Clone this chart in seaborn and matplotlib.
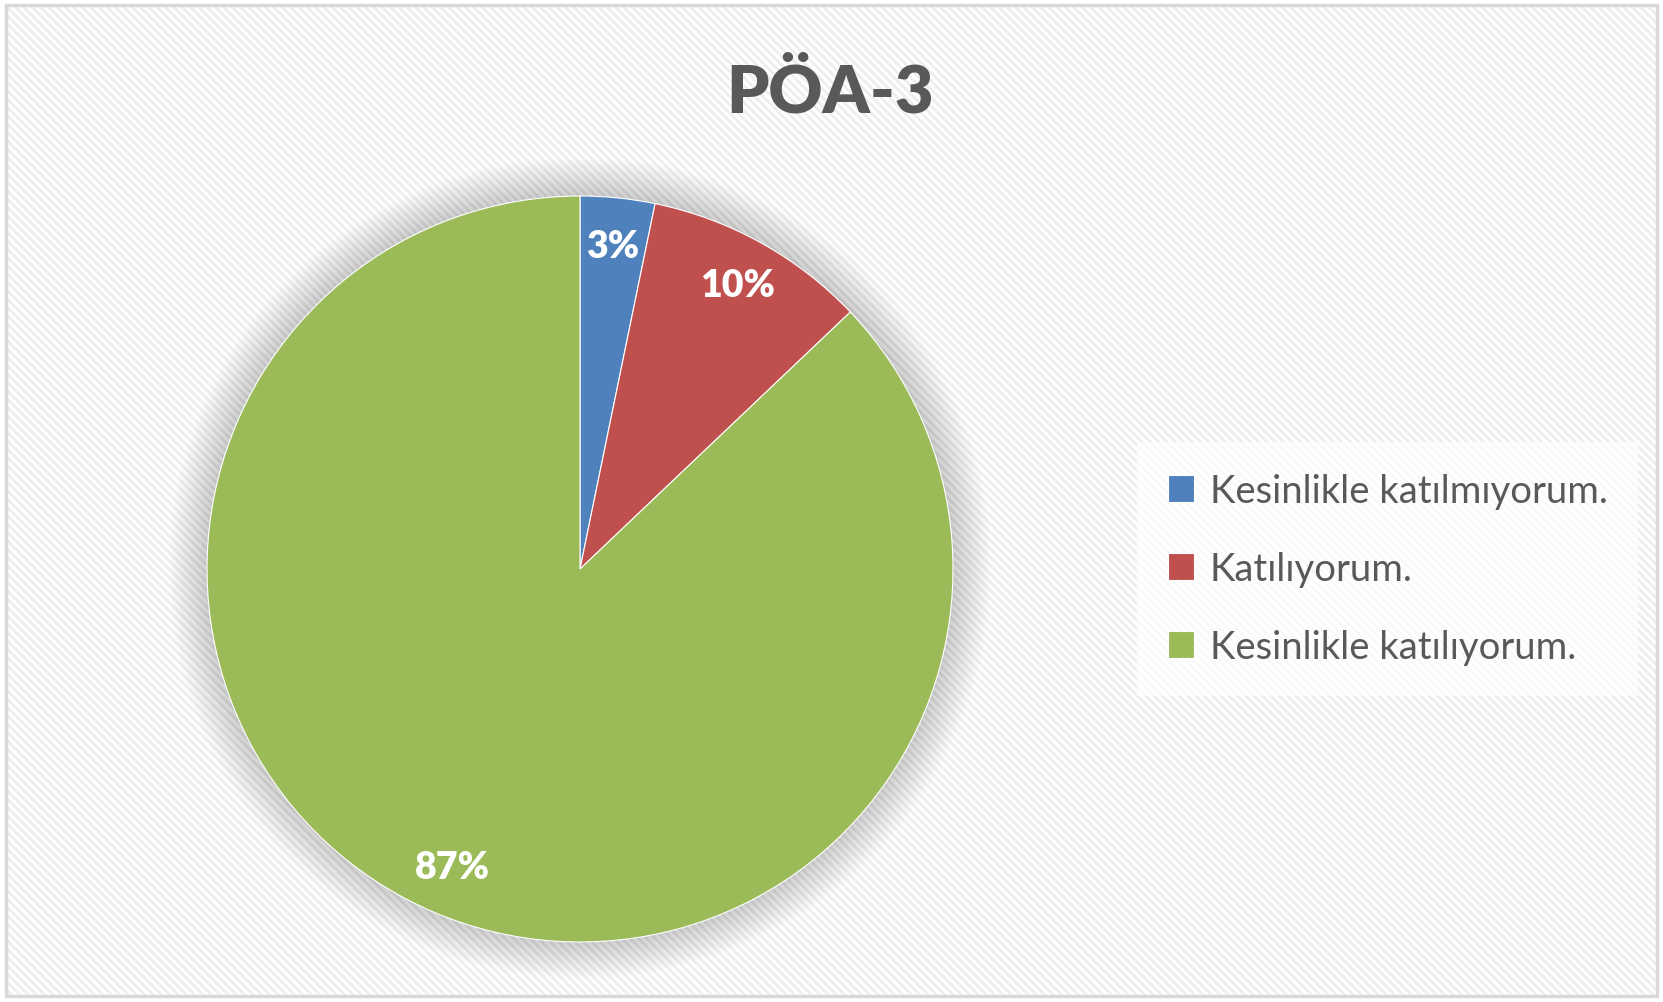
import numpy as np
import matplotlib
matplotlib.use("Agg")
from matplotlib import pyplot as plt
from matplotlib.patches import Rectangle, Circle
import seaborn as sns

labels = ["Kesinlikle katılmıyorum.", "Katılıyorum.", "Kesinlikle katılıyorum."]
counts = [1, 3, 27]
colors = ["#4F81BD", "#C0504D", "#9BBB59"]
title = "PÖA-3"

sns.set_theme(style="white")
plt.rcParams['font.family'] = ['Lato', 'DejaVu Sans']
plt.rcParams['hatch.linewidth'] = 2.0

W, H = 1663, 1003
fig = plt.figure(figsize=(W / 100, H / 100), dpi=100)

# background with faint diagonal stripes and a thin border
bg = fig.add_axes([0, 0, 1, 1])
bg.set_xlim(0, W)
bg.set_ylim(H, 0)
bg.axis("off")
bg.add_patch(Rectangle((6, 6), W - 12, H - 12, facecolor="white",
                       edgecolor="#eeeeee", hatch="\\\\\\\\", lw=0))
bg.add_patch(Rectangle((6, 6), W - 12, H - 12, facecolor="none",
                       edgecolor="#d9d9d9", lw=2.5))

# pie
cx, cy, r = 580, 570, 373
ax = fig.add_axes([(cx - 1.1 * r) / W, (H - cy - 1.1 * r) / H, 2.2 * r / W, 2.2 * r / H])
# soft shadow
for i in range(24):
    ax.add_patch(Circle((0, 0.003), 1 + 0.0045 * i, facecolor="#000000",
                        alpha=0.008, lw=0, zorder=0))
wedges, texts, autotexts = ax.pie(
    counts, colors=colors, startangle=90, counterclock=False,
    autopct="%1.0f%%", pctdistance=0.87,
    wedgeprops=dict(linewidth=0.8, edgecolor="white"),
    textprops=dict(color="white", fontsize=27, fontweight="heavy"))
ax.set_xlim(-1.1, 1.1)
ax.set_ylim(-1.1, 1.1)
ax.set_aspect("equal")
ax.axis("off")

fig.text(830 / W, 1 - 93 / H, title, ha="center", va="center",
         fontsize=48, fontweight="heavy", color="#595959")

leg = fig.legend(wedges, labels, loc="center left",
                 bbox_to_anchor=(1118 / W, 1 - 570 / H),
                 fontsize=27.5, labelcolor="#595959", frameon=True,
                 handlelength=0.7, handleheight=0.7, handletextpad=0.4,
                 labelspacing=1.1, borderpad=0.8, fancybox=False)
leg.get_frame().set_facecolor("white")
leg.get_frame().set_alpha(0.7)
leg.get_frame().set_linewidth(0)

plt.savefig("out.png", dpi=100)
